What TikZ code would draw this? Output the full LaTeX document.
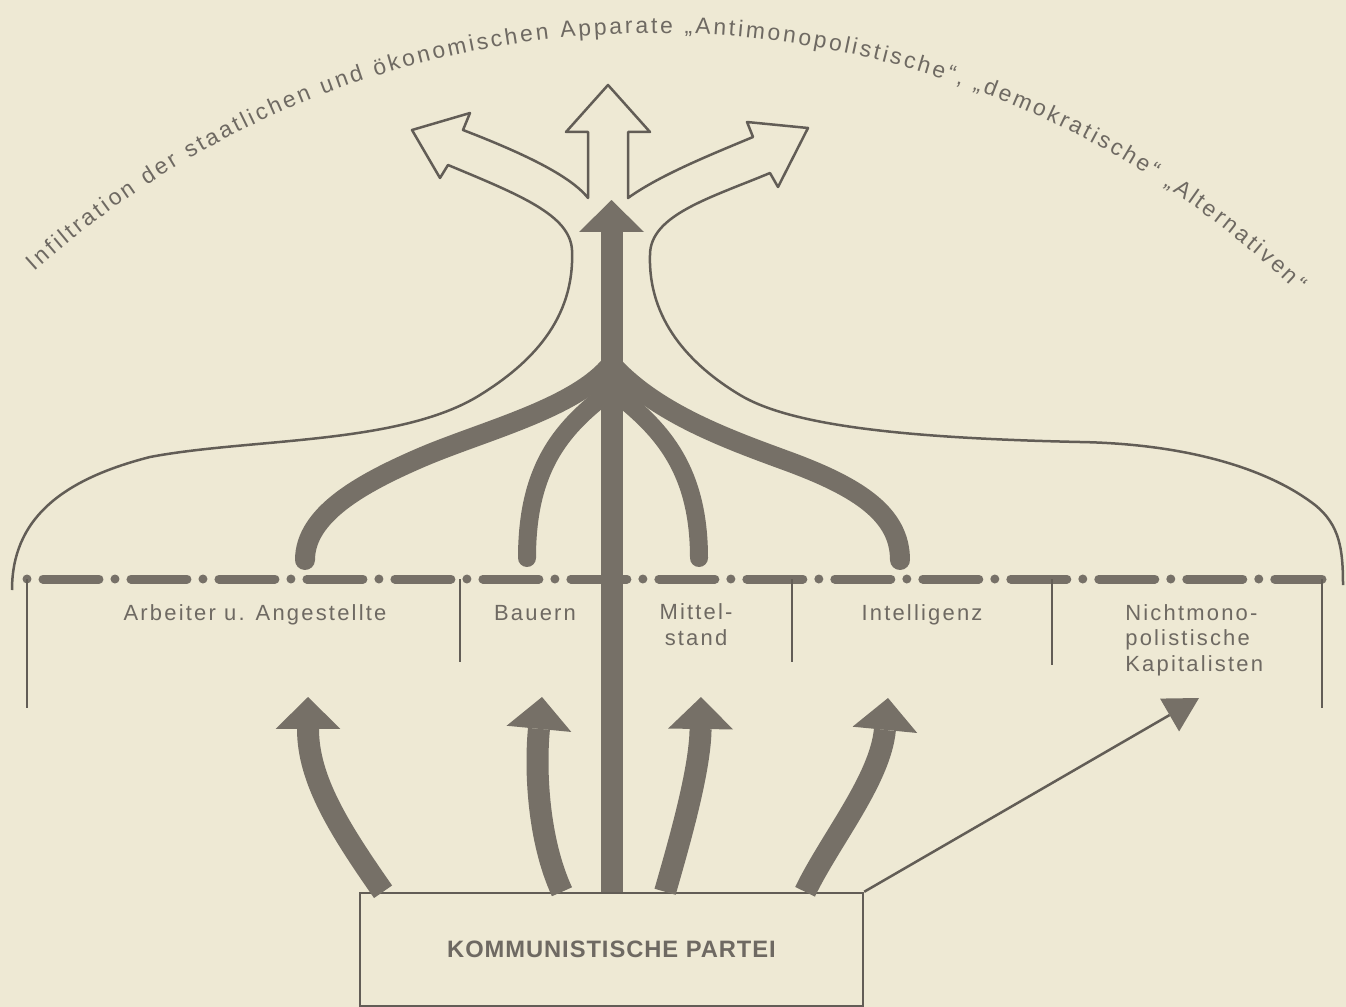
\documentclass[tikz,border=0pt]{standalone}
\usepackage{fontspec}
\setmainfont{Liberation Sans}
\newfontfamily\lblfont[LetterSpace=10]{Liberation Sans}
\newfontfamily\kpfont[LetterSpace=4]{Liberation Sans}
\newcommand\arcfnt{\fontsize{13}{15}\selectfont}
\usepackage{tikz}
\usetikzlibrary{arrows.meta,calc,decorations.text}
\definecolor{paper}{RGB}{238,233,212}
\definecolor{ink}{RGB}{98,93,86}
\definecolor{flow}{RGB}{118,112,103}
\definecolor{txt}{RGB}{110,105,98}
\tikzset{
  lbl/.style={font=\lblfont\fontsize{12.5}{14.3}\selectfont,text=txt,inner sep=0pt,anchor=base},
  party/.style={rectangle,draw=ink,line width=0.05cm,minimum width=10.06cm,minimum height=2.26cm,font=\kpfont\bfseries\fontsize{13.5}{16}\selectfont,text=txt},
  outl/.style={draw=ink,line width=0.05cm,line join=round},
  stub/.style={draw=ink,line width=0.05cm},
  dd/.style={draw=flow,line width=0.18cm,line cap=round,dash pattern=on 0cm off 0.32cm on 1.12cm off 0.32cm},
  br/.style={draw=flow,line width=0.4cm,line cap=round},
  brs/.style={draw=flow,line width=0.36cm,line cap=round},
  flw/.style={draw=flow,line width=0.44cm,-{Triangle[width=1.3cm,length=0.64cm,line width=0pt]}},
  pt/.style={draw=ink,line width=0.05cm,-{Triangle[width=0.76cm,length=0.68cm,line width=0pt,color=flow]}},
}
\begin{document}
\begin{tikzpicture}[x=0.02cm,y=-0.02cm]
  \fill[paper] (0,0) rectangle (1346,1007);
  \useasboundingbox (0,0) rectangle (1346,1007);
  \path[decorate,decoration={text along path,text align={fit to path},text color=txt,
    text={|\arcfnt|Infiltration der staatlichen und ökonomischen Apparate „Antimonopolistische“, „demokratische“ „Alternativen“}}]
    (655,958) ++(227.9:925) arc[start angle=227.9,end angle=313.8,radius=925];
  \draw[outl] (12,590) .. controls (12,520) and (60,480) .. (150,457)
    .. controls (250,438) and (400,445) .. (480,395)
    .. controls (530,364) and (575,320) .. (572,250)
    .. controls (570,215) and (520,195) .. (448,165)
    -- (440,178) -- (412,130) -- (470,113) -- (463,130)
    .. controls (520,152) and (570,175) .. (588,198)
    -- (588,132) -- (566,132) -- (608,85) -- (650,132) -- (628,132) -- (628,198)
    .. controls (660,175) and (710,155) .. (753,137)
    -- (747,122) -- (808,128) -- (778,187) -- (770,173)
    .. controls (710,198) and (650,215) .. (650,255)
    .. controls (648,320) and (690,365) .. (740,395)
    .. controls (790,425) and (900,438) .. (1080,442)
    .. controls (1190,444) and (1270,470) .. (1315,505)
    .. controls (1340,525) and (1343,550) .. (1343,585);
  \draw[dd] (27,579) -- (1322,579);
  \foreach \x/\h in {27/708,460/662,792/662,1052/665,1322/708}
    \draw[stub] (\x,579) -- (\x,\h);
  \node[lbl] (arb) at (255,620) {Arbeiter u. Angestellte};
  \node[lbl] (bau) at (535,620) {Bauern};
  \node[lbl,align=center] (mit) at (696,645) {Mittel-\\stand};
  \node[lbl] (int) at (922,620) {Intelligenz};
  \node[lbl,align=left,anchor=base west] (kap) at (1125,671) {Nichtmono-\\polistische\\Kapitalisten};
  \node[party] (kp) at (611.5,949.5) {KOMMUNISTISCHE PARTEI};
  \coordinate (top) at (611.5,200);
  \coordinate (h1) at (308,697);
  \coordinate (h2) at (542,697);
  \coordinate (h3) at (701,697);
  \coordinate (h4) at (888,698);
  \coordinate (nk) at (1199,698);
  \draw[br] (608,368) .. controls (570,410) and (480,432) .. (420,458) .. controls (360,484) and (305,515) .. (305,560);
  \draw[br] (615,368) .. controls (660,415) and (730,440) .. (790,462) .. controls (860,488) and (900,515) .. (900,560);
  \draw[brs] (605,395) .. controls (560,430) and (527,470) .. (527,558);
  \draw[brs] (618,395) .. controls (662,430) and (699,470) .. (699,558);
  \draw[flw] (kp.north) -- (top);
  \draw[flw] ($(kp.north west)!0.048!(kp.north east)$) .. controls (340,830) and (308,780) .. (h1);
  \draw[flw] ($(kp.north west)!0.402!(kp.north east)$) .. controls (538,840) and (535,770) .. (h2);
  \draw[flw] ($(kp.north west)!0.606!(kp.north east)$) .. controls (680,840) and (700,770) .. (h3);
  \draw[flw] ($(kp.north west)!0.883!(kp.north east)$) .. controls (830,840) and (880,780) .. (h4);
  \draw[pt] (kp.north east) -- (nk);
\end{tikzpicture}
\end{document}
